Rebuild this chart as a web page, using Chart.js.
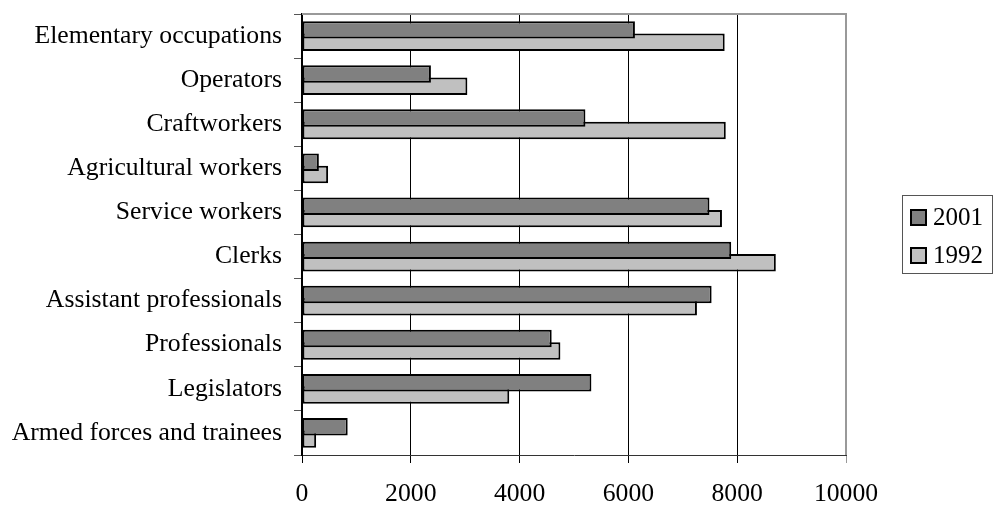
<!DOCTYPE html>
<html>
<head>
<meta charset="utf-8">
<script src="https://cdn.jsdelivr.net/npm/chart.js@4/dist/chart.umd.min.js"></script>
<style>
  html, body { margin: 0; padding: 0; background: #ffffff; }
  #wrap { width: 993px; height: 505px; }
</style>
</head>
<body>
<div id="wrap"><canvas id="chart" width="993" height="505"></canvas></div>
<script>
// Employment by occupation group, 2001 vs 1992
const categories = [
  'Elementary occupations',
  'Operators',
  'Craftworkers',
  'Agricultural workers',
  'Service workers',
  'Clerks',
  'Assistant professionals',
  'Professionals',
  'Legislators',
  'Armed forces and trainees'
];
const values2001 = [6120, 2370, 5210, 310, 7490, 7890, 7530, 4590, 5320, 840];
const values1992 = [7770, 3040, 7790, 480, 7720, 8710, 7260, 4750, 3810, 260];
const seriesNames = ['2001', '1992'];
const xTickValues = [0, 2000, 4000, 6000, 8000, 10000];

const FONT = 'Liberation Serif, Times New Roman, serif';

// Gray frame on the top and right of the plot area
const frame = {
  id: 'frame',
  afterDraw(chart) {
    const { ctx, chartArea: a } = chart;
    ctx.save();
    ctx.strokeStyle = '#999999';
    ctx.lineWidth = 2;
    ctx.beginPath();
    ctx.moveTo(a.left, a.top);
    ctx.lineTo(a.right, a.top);
    ctx.lineTo(a.right, a.bottom);
    ctx.stroke();
    ctx.restore();
  }
};

// Boxed legend to the right of the plot
const boxedLegend = {
  id: 'boxedLegend',
  afterDraw(chart) {
    const { ctx } = chart;
    const ds = chart.data.datasets;
    const left = 902, top = 195, w = 90, h = 78;
    ctx.save();
    ctx.strokeStyle = '#555555';
    ctx.lineWidth = 1;
    ctx.strokeRect(left + 0.5, top + 0.5, w, h);
    ctx.font = '25px ' + FONT;
    ctx.textBaseline = 'middle';
    ds.forEach((d, i) => {
      const cy = top + 22 + i * 38;
      ctx.fillStyle = d.backgroundColor;
      ctx.fillRect(911, cy - 7, 15, 15);
      ctx.strokeStyle = '#000';
      ctx.lineWidth = 2;
      ctx.strokeRect(911, cy - 7, 15, 15);
      ctx.fillStyle = '#000';
      ctx.fillText(d.label, 933, cy + 1);
    });
    ctx.restore();
  }
};

new Chart(document.getElementById('chart'), {
  type: 'bar',
  data: {
    labels: categories,
    datasets: [
      {
        label: seriesNames[0],
        data: values2001,
        backgroundColor: '#808080',
        borderColor: '#000000',
        borderWidth: 2,
        borderSkipped: false
      },
      {
        label: seriesNames[1],
        data: values1992,
        backgroundColor: '#c0c0c0',
        borderColor: '#000000',
        borderWidth: 2,
        borderSkipped: false
      }
    ]
  },
  options: {
    indexAxis: 'y',
    responsive: false,
    animation: false,
    devicePixelRatio: 1,
    categoryPercentage: 0.56,
    barPercentage: 1.41,
    layout: { padding: { top: 14, right: 147, left: 0, bottom: 0 } },
    plugins: {
      legend: { display: false },
      tooltip: { enabled: false }
    },
    scales: {
      x: {
        type: 'linear',
        min: 0,
        max: 10000,
        afterBuildTicks(scale) {
          scale.ticks = xTickValues.map(v => ({ value: v }));
        },
        afterFit(scale) {
          scale.height = 50;
          scale.paddingLeft = 0;
          scale.paddingRight = 0;
        },
        grid: {
          color: (c) => (c.tick && c.tick.value === 10000) ? '#999999' : '#000000',
          lineWidth: 1,
          tickLength: 8
        },
        border: { color: '#333333', width: 1 },
        ticks: {
          color: '#000000',
          font: { family: FONT, size: 25.7 },
          padding: 16,
          maxRotation: 0,
          callback: (v) => String(v)
        }
      },
      y: {
        type: 'category',
        afterFit(scale) {
          scale.width = 302;
          scale.paddingTop = 0;
          scale.paddingBottom = 0;
        },
        grid: {
          drawOnChartArea: false,
          offset: true,
          tickLength: 8,
          color: '#555555'
        },
        border: { color: '#000000', width: 2 },
        ticks: {
          color: '#000000',
          font: { family: FONT, size: 25.7 },
          padding: 12,
          autoSkip: false
        }
      }
    }
  },
  plugins: [frame, boxedLegend]
});
</script>
</body>
</html>
